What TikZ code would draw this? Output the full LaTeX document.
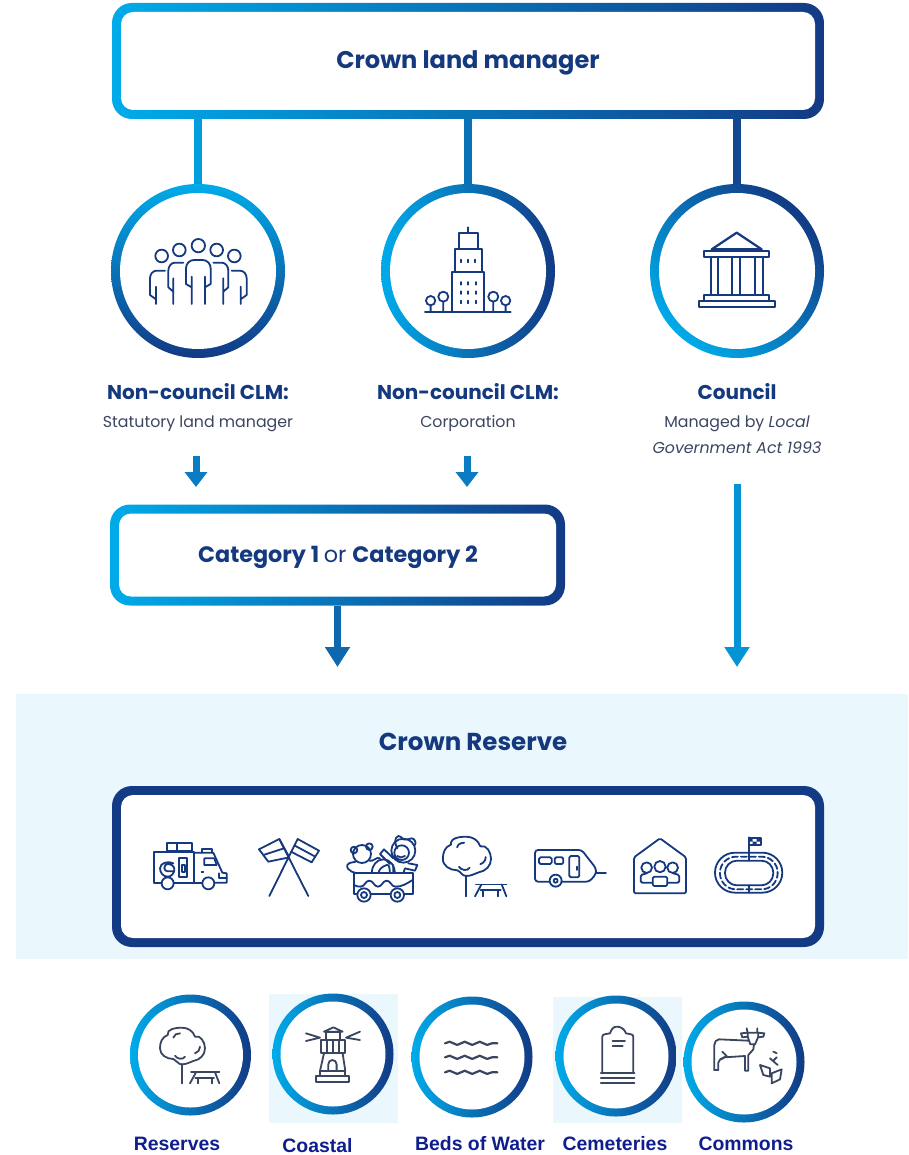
\documentclass[tikz,border=0pt]{standalone}
\usepackage{fontspec}
\usepackage{tikz}
\usetikzlibrary{arrows.meta,decorations.pathmorphing}
\setmainfont{Poppins}
\newfontfamily\labelfont{Liberation Sans}[BoldFont={Liberation Sans Bold}]
\definecolor{clmlight}{HTML}{00ABE9}
\definecolor{clmdark}{HTML}{133A85}
\definecolor{clmmid}{HTML}{0A7CC2}
\definecolor{clmpale}{HTML}{EAF7FD}
\definecolor{clmtext}{HTML}{15397F}
\definecolor{clmgrey}{HTML}{3A4560}
\definecolor{clmlabel}{HTML}{0E1E8E}
\tikzstyle{ring}=[circle,inner sep=0pt,top color=clmlight,bottom color=clmdark]
\tikzstyle{hole}=[circle,inner sep=0pt,fill=white]
\tikzstyle{gradbox}=[inner sep=0pt,rounded corners=20pt,left color=clmlight,right color=clmdark]
\tikzstyle{whitebox}=[inner sep=0pt,rounded corners=12pt,fill=white,text=clmtext]
\tikzstyle{title}=[anchor=base,text=clmtext,font=\fontsize{24.5}{27}\selectfont\bfseries]
\tikzstyle{subtitle}=[anchor=base,text=clmtext,font=\fontsize{20}{23}\selectfont\bfseries]
\tikzstyle{cattitle}=[anchor=base,text=clmtext,font=\fontsize{22.3}{25}\selectfont\bfseries]
\tikzstyle{note}=[anchor=base,text=clmgrey,font=\fontsize{15.8}{18}\selectfont]
\tikzstyle{caption}=[anchor=base,text=clmlabel,font=\labelfont\fontsize{19.4}{22}\selectfont\bfseries]
\tikzstyle{conn}=[line width=8pt]
\tikzstyle{smallarrow}=[line width=7pt,color=clmmid,-{Triangle[width=22pt,length=15pt]}]
\tikzstyle{bigarrow}=[line width=7pt,-{Triangle[width=24pt,length=20pt]}]
\tikzstyle{icon}=[x=#1pt,y=-#1pt,draw=clmtext,line width=1.8pt,line cap=round,line join=round]
\newcommand{\treeicon}{
  \draw (160,222) to[out=180,in=270] (120,190) to[out=90,in=200] (143,150) to[out=100,in=180] (185,128)
    to[out=0,in=110] (225,155) to[out=20,in=90] (255,190) to[out=270,in=10] (220,228) to[out=200,in=0] (185,238)
    to[out=180,in=340] cycle;
  \draw (160,158) to[out=80,in=180] (180,145);
  \draw (165,212) to[out=300,in=240] (195,215);
  \draw (225,205) to[out=20,in=270] (240,185);
  \draw (185,238) -- (185,295);
  \draw (213,262) -- (298,262);
  \draw (228,262) -- (210,295);
  \draw (285,262) -- (298,295);
  \draw (226,278) -- (282,278);
  \draw (233,278) -- (233,295);
  \draw (275,278) -- (275,295);
}
\begin{document}
\begin{tikzpicture}[x=1pt,y=-1pt]
      \useasboundingbox (0,0) rectangle (908,1155);
      % panels behind everything
      \fill[clmpale] (16,694) rectangle (908,959);
      \fill[clmpale] (269,994) rectangle (398,1123);
      \fill[clmpale] (553,997) rectangle (682,1123);
      % top box
      \node[gradbox,minimum width=712pt,minimum height=116pt] (clm) at (468,61) {};
      \node[whitebox,minimum width=694pt,minimum height=98pt] (clmin) at (clm) {};
      \node[title,font=\fontsize{24.1}{27}\selectfont\bfseries] (clmtitle) at (468,69) {Crown land manager};
      % three managers
      \node[ring,minimum size=174pt] (people) at (198,271) {};
      \node[hole,minimum size=156pt] (peoplein) at (people) {};
      \node[ring,shading angle=90,minimum size=174pt] (corp) at (468,271) {};
      \node[hole,minimum size=156pt] (corpin) at (corp) {};
      \node[ring,shading angle=135,minimum size=174pt] (council) at (737,271) {};
      \node[hole,minimum size=156pt] (councilin) at (council) {};
      \draw[conn,color=clmlight!88!clmdark] (people |- clm.south) -- (people);
      \draw[conn,color=clmlight!50!clmdark] (corp |- clm.south) -- (corp);
      \draw[conn,color=clmlight!12!clmdark] (council |- clm.south) -- (council);
      % labels under the rings
      \node[subtitle] (peoplename) at (198,399) {Non-council CLM:};
      \node[note] (peoplenote) at (198,427) {Statutory land manager};
      \node[subtitle] (corpname) at (468,399) {Non-council CLM:};
      \node[note] (corpnote) at (468,427) {Corporation};
      \node[subtitle] (councilname) at (737,399) {Council};
      \node[note] (councilnote) at (737,427) {Managed by \emph{Local}};
      \node[note] (councilact) at (737,453) {\emph{Government Act 1993}};
      % category box
      \node[gradbox,minimum width=455pt,minimum height=101pt] (cat) at (337.5,555) {};
      \node[whitebox,minimum width=437pt,minimum height=83pt] (catin) at (cat) {};
      \node[cattitle] (cattext) at (338,562) {Category 1 \mdseries or \bfseries Category 2};
      % arrows
      \coordinate (a1) at (196,456);
      \coordinate (a2) at (196,487);
      \coordinate (b1) at (467,456);
      \coordinate (b2) at (467,487);
      \coordinate (c2) at (337.5,667);
      \coordinate (d1) at (737,484);
      \coordinate (d2) at (737,667);
      \draw[smallarrow] (a1) -- (a2);
      \draw[smallarrow] (b1) -- (b2);
      \draw[bigarrow,color=clmmid!70!clmdark] (cat.south) -- (c2);
      \draw[bigarrow,color=clmlight!80!clmdark] (d1) -- (d2);
      % crown reserve
      \node[title] (restitle) at (473,750) {Crown Reserve};
      \node[inner sep=0pt,rounded corners=20pt,fill=clmdark,minimum width=712pt,minimum height=161pt] (res) at (468,866.5) {};
      \node[whitebox,minimum width=694pt,minimum height=143pt] (resin) at (res) {};
      % bottom rings
      \node[ring,shading angle=90,minimum size=121pt] (reserves) at (190.5,1055) {};
      \node[hole,minimum size=105pt] (reservesin) at (reserves) {};
      \node[ring,shading angle=90,minimum size=121pt] (coastal) at (333,1054) {};
      \node[hole,minimum size=105pt] (coastalin) at (coastal) {};
      \node[ring,shading angle=90,minimum size=121pt] (beds) at (472,1057) {};
      \node[hole,minimum size=105pt] (bedsin) at (beds) {};
      \node[ring,shading angle=90,minimum size=121pt] (cemeteries) at (616,1056) {};
      \node[hole,minimum size=105pt] (cemeteriesin) at (cemeteries) {};
      \node[ring,shading angle=90,minimum size=121pt] (commons) at (744,1062) {};
      \node[hole,minimum size=105pt] (commonsin) at (commons) {};
      \node[caption] (reservesname) at (177,1150) {Reserves};
      \node[caption] (coastalname) at (317.5,1152) {Coastal};
      \node[caption] (bedsname) at (480,1150) {Beds of Water};
      \node[caption] (cemeteriesname) at (615,1150) {Cemeteries};
      \node[caption] (commonsname) at (746,1150) {Commons};
      % people and building icons
      \begin{scope}[shift={(100,180)},icon=.3333]
        \draw (185,228) circle (19);
        \draw (238,210) circle (19);
        \draw (295,197) circle (20);
        \draw (350,210) circle (19);
        \draw (403,228) circle (19);
        \draw (275,372) -- (275,290) (275,322) -- (258,312) -- (258,265) to[out=90,in=180] (282,240) -- (308,240) to[out=0,in=90] (332,265) -- (332,312) -- (315,322) (315,290) -- (315,372);
        \draw (220,372) -- (220,295) (220,335) -- (205,322) -- (205,272) to[out=90,in=180] (225,248) -- (250,248);
        \draw (370,372) -- (370,295) (370,335) -- (385,322) -- (385,272) to[out=90,in=0] (365,248) -- (340,248);
        \draw (168,372) -- (168,320) (168,358) -- (150,345) -- (150,295) to[out=90,in=180] (170,272) -- (195,272);
        \draw (422,372) -- (422,320) (422,358) -- (440,345) -- (440,295) to[out=90,in=0] (420,272) -- (395,272);
        \draw (1104,142) -- (1104,160);
        \draw (1076,160) rectangle (1134,208);
        \draw (1065,208) rectangle (1146,275);
        \draw (1056,275) rectangle (1152,395);
        \draw (975,395) -- (1232,395);
        \draw (1082,239) -- (1082,247) (1104,239) -- (1104,247) (1126,239) -- (1126,247);
        \draw (1082,306) -- (1082,314) (1104,306) -- (1104,314) (1128,306) -- (1128,314);
        \draw (1082,334) -- (1082,342) (1104,334) -- (1104,342) (1128,334) -- (1128,342);
        \draw (1082,362) -- (1082,370) (1104,362) -- (1104,370) (1128,362) -- (1128,370);
        \draw (992,362) circle (14) (992,376) -- (992,395);
        \draw (1030,350) circle (15) (1030,365) -- (1030,395);
        \draw (1180,350) circle (15) (1180,365) -- (1180,395);
        \draw (1217,362) circle (14) (1217,376) -- (1217,395);
      \end{scope}
      % courthouse icon
      \begin{scope}[shift={(640,180)},icon=.3333,line width=2.2pt]
        \draw (215,208) -- (290,158) -- (365,208) -- cycle;
        \draw (193,212) rectangle (387,230);
        \draw (212,230) rectangle (235,345);
        \draw (277,230) rectangle (300,345);
        \draw (345,230) rectangle (368,345);
        \draw (193,345) rectangle (387,362);
        \draw (176,362) rectangle (404,382);
      \end{scope}
      % camper
      \begin{scope}[shift={(145,830)},icon=.3333]
        \draw (65,40) rectangle (140,62) (95,40) -- (95,62);
        \draw (48,158) -- (28,158) -- (28,65) -- (148,65) -- (148,158) (88,158) -- (170,158);
        \draw (148,68) -- (205,68) -- (232,128) -- (245,130) -- (245,158) -- (210,158);
        \draw (170,68) -- (170,58) -- (200,58) -- (200,68);
        \draw (178,85) -- (208,85) -- (215,105) -- (178,105) -- cycle;
        \draw (103,85) rectangle (127,142) (110,105) rectangle (120,125);
        \draw (85,100) to[out=150,in=90] (45,115) to[out=270,in=180] (68,140) to[out=0,in=270] (88,118) to[out=90,in=0] (68,102) to[out=180,in=90] (58,114) to[out=270,in=180] (68,124) -- (88,124);
        \draw (68,160) circle (18) (190,160) circle (18);
        \draw (222,130) -- (222,145) -- (245,145);
        \draw (170,125) -- (175,125);
      \end{scope}
      % flags
      \begin{scope}[shift={(130,820)},icon=.3333]
        \draw (503,57) -- (418,228) (448,57) -- (535,228);
        \draw (387,88) -- (448,57) -- (478,112) -- (415,125) -- cycle (400,105) -- (462,85);
        \draw (503,57) -- (567,92) -- (545,127) -- (483,95) (493,76) -- (556,110);
      \end{scope}
      % wagon of toys
      \begin{scope}[shift={(340,830)},icon=.3333]
        \draw (42,130) rectangle (218,192);
        \draw (42,165) to[out=-30,in=180] (62,170) to[out=0,in=180] (88,152) to[out=0,in=180] (114,170) to[out=0,in=180] (140,152) to[out=0,in=180] (166,170) to[out=0,in=210] (218,150);
        \draw[fill=white] (72,195) circle (20) (172,195) circle (20);
        \draw (72,195) circle (9) (172,195) circle (9);
        \draw (66,72) circle (27) (42,60) circle (10) (88,50) circle (10);
        \draw (48,95) to[out=200,in=60] (22,105) to[out=250,in=150] (35,125) -- (50,130);
        \draw (88,92) to[out=-20,in=150] (120,85);
        \draw (95,130) to[out=90,in=180] (130,88) to[out=0,in=90] (165,130);
        \draw (115,130) to[out=80,in=200] (140,105) to[out=20,in=100] (150,130);
        \draw (190,62) circle (36) (185,68) circle (22);
        \draw (172,55) to[out=120,in=200] (175,18) to[out=20,in=150] (190,28) to[out=-30,in=180] (215,25) to[out=0,in=60] (225,45);
        \draw (172,78) to[out=-50,in=210] (195,78);
        \draw (160,85) -- (132,58) -- (120,72) -- (150,102);
        \draw (205,100) -- (232,105) -- (225,122) -- (195,115) (160,105) -- (160,130) (195,115) -- (190,130);
      \end{scope}
      % tree with a table, in the box and in the reserves ring
      \begin{scope}[shift={(400,791)},icon=.357]
        \treeicon
      \end{scope}
      \begin{scope}[shift={(120,985)},icon=.3333,draw=clmgrey]
        \treeicon
      \end{scope}
      % caravan, house and track
      \begin{scope}[shift={(470,820)},icon=.3333]
        \draw[rounded corners=3pt] (195,90) -- (335,90) -- (378,145) -- (378,162) -- (358,185) -- (195,185) -- cycle;
        \draw (378,158) -- (408,158);
        \draw[rounded corners=1.5pt] (207,112) rectangle (245,132) (254,112) rectangle (280,132) (298,108) rectangle (328,172);
        \draw (320,140) -- (320,150);
        \draw[fill=white] (257,182) circle (18);
        \draw (257,182) circle (6);
        \draw[rounded corners=1.5pt] (492,112) -- (570,55) -- (648,112) -- (648,220) -- (492,220) -- cycle;
        \draw (530,143) circle (16) (570,140) circle (17) (608,143) circle (16);
        \draw[rounded corners=1.5pt] (548,198) -- (548,170) -- (592,170) -- (592,198) -- cycle;
        \draw[rounded corners=1.5pt] (548,188) -- (512,188) -- (512,165) -- (530,160) (592,188) -- (628,188) -- (628,165) -- (610,160);
        \draw[rounded corners=20pt] (735,98) rectangle (937,218);
        \draw[rounded corners=12pt] (765,122) rectangle (910,196);
        \draw[rounded corners=16pt,dash pattern=on 6pt off 3pt] (750,110) rectangle (923,208);
        \draw (836,122) -- (836,52) (836,196) -- (836,218);
        \draw (836,55) rectangle (872,75);
        \fill[clmtext] (836,55) rectangle (848,65) (860,55) rectangle (872,65) (848,65) rectangle (860,75);
      \end{scope}
      % lighthouse
      \begin{scope}[shift={(120,985)},icon=.3333,draw=clmgrey]
        \draw (588,272) rectangle (688,290);
        \draw (600,258) rectangle (676,272);
        \draw (612,205) -- (600,258) (668,205) -- (676,258);
        \draw (603,165) rectangle (675,205) (620,165) -- (620,205) (638,165) -- (638,205) (656,165) -- (656,205);
        \draw (618,140) rectangle (660,165);
        \draw (612,140) -- (640,127) -- (668,140) -- cycle;
        \draw (625,258) -- (625,238) to[out=90,in=180] (637,225) to[out=0,in=90] (650,238) -- (650,258);
        \draw (558,145) -- (600,158) -- (558,168);
        \draw (720,140) -- (678,158) -- (720,165);
      \end{scope}
      % water and headstone
      \begin{scope}[shift={(400,985)},icon=.3333,draw=clmgrey]
        \draw[line width=2.2pt,decorate,decoration={snake,amplitude=1.6pt,segment length=15pt}] (135,175) -- (292,175);
        \draw[line width=2.2pt,decorate,decoration={snake,amplitude=1.6pt,segment length=15pt}] (135,217) -- (292,217);
        \draw[line width=2.2pt,decorate,decoration={snake,amplitude=1.6pt,segment length=15pt}] (135,262) -- (292,262);
        \draw (607,265) -- (607,155) to[out=90,in=200] (630,145) to[out=70,in=180] (650,125) to[out=0,in=110] (678,145) to[out=-20,in=90] (700,155) -- (700,265);
        \draw (638,168) -- (675,168) (638,183) -- (668,183);
        \draw[line width=2.2pt] (603,265) -- (703,265) (603,278) -- (703,278) (603,293) -- (703,293);
      \end{scope}
      % cow and plant
      \begin{scope}[shift={(705,1020)},icon=.3333,draw=clmgrey]
        \draw (28,150) -- (28,75) to[out=90,in=180] (42,58) -- (130,62);
        \draw (28,150) -- (40,150) -- (40,128) to[out=90,in=200] (58,112) -- (120,108) -- (120,152) -- (130,152) -- (130,105) -- (145,88) -- (147,73);
        \draw (52,95) -- (65,108) -- (48,118);
        \draw (108,40) -- (128,38) -- (128,50) -- (112,52) -- cycle;
        \draw (160,38) -- (178,40) -- (175,50) -- (160,52) -- cycle;
        \draw (128,38) -- (160,38) (128,50) -- (136,73) -- (150,73) -- (160,50);
        \draw (128,38) -- (125,25) (157,38) -- (157,25);
        \draw (165,135) -- (195,145) -- (195,170) -- (175,165) -- cycle;
        \draw (200,190) -- (200,160) -- (230,148) -- (225,178) -- cycle;
        \draw (205,95) to[out=60,in=200] (215,100) (195,115) -- (218,135) (205,122) -- (215,112);
      \end{scope}
    \end{tikzpicture}
\end{document}
